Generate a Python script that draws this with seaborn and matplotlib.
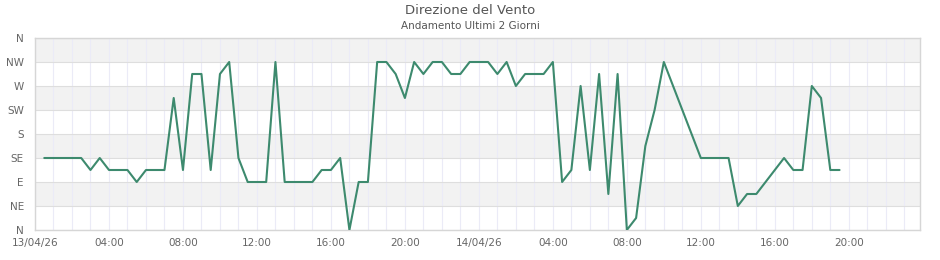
import matplotlib
matplotlib.use("Agg")
import matplotlib.pyplot as plt
import seaborn as sns
import pandas as pd
import numpy as np

# hours since 13/04/26 00:00
hours = [0.5, 1.0, 1.5, 2.0, 2.5, 3.0, 3.5, 4.0, 4.5, 5.0, 5.5, 6.0, 6.5, 7.0, 7.5,
         8.0, 8.5, 9.0, 9.5, 10.0, 10.5, 11.0, 11.5, 12.0, 12.5, 13.0, 13.5, 14.0,
         14.5, 15.0, 15.5, 16.0, 16.5, 17.0, 17.5, 18.0, 18.5, 19.0, 19.5, 20.0,
         20.5, 21.0, 21.5, 22.0, 22.5, 23.0, 23.5, 24.0, 24.5, 25.0, 25.5, 26.0,
         26.5, 27.0, 27.5, 28.0, 28.5, 29.0, 29.5, 30.0, 30.5, 31.0, 31.5, 32.0,
         32.5, 33.0, 33.5, 34.0, 36.0, 36.5, 37.0, 37.5, 38.0, 38.5, 39.0, 39.5,
         40.0, 40.5, 41.0, 41.5, 42.0, 42.5, 43.0, 43.5]
direction = [135, 135, 135, 135, 135, 112.5, 135, 112.5, 112.5, 112.5, 90, 112.5,
             112.5, 112.5, 247.5, 112.5, 292.5, 292.5, 112.5, 292.5, 315, 135, 90,
             90, 90, 315, 90, 90, 90, 90, 112.5, 112.5, 135, 0, 90, 90, 315, 315,
             292.5, 247.5, 315, 292.5, 315, 315, 292.5, 292.5, 315, 315, 315, 292.5,
             315, 270, 292.5, 292.5, 292.5, 315, 90, 112.5, 270, 112.5, 292.5, 67.5,
             292.5, 0, 22.5, 157.5, 225, 315, 135, 135, 135, 135, 45, 67.5, 67.5,
             90, 112.5, 135, 112.5, 112.5, 270, 247.5, 112.5, 112.5]

y_ticks = [0, 45, 90, 135, 180, 225, 270, 315, 360]
y_labels = ["N", "NE", "E", "SE", "S", "SW", "W", "NW", "N"]
x_ticks = [0, 4, 8, 12, 16, 20, 24, 28, 32, 36, 40, 44]
x_labels = ["13/04/26", "04:00", "08:00", "12:00", "16:00", "20:00",
            "14/04/26", "04:00", "08:00", "12:00", "16:00", "20:00"]

df = pd.DataFrame({"ora": hours, "dir": direction})

sns.set_style("white")
plt.rcParams['font.family'] = ['DejaVu Sans']

fig = plt.figure(figsize=(9.4, 2.6), dpi=100)
ax = fig.add_axes([35/940, 1-230/260, 885/940, 192/260])

# alternating bands
for i in range(len(y_ticks)-1):
    if i % 2 == 1:
        ax.axhspan(y_ticks[i], y_ticks[i+1], color="#f2f2f2", zorder=0, lw=0)

# hourly vertical grid
ax.set_xticks(np.arange(0, 48, 1), minor=True)
ax.grid(which="minor", axis="x", color="#ebebf7", lw=0.8, zorder=0.5)
ax.grid(which="major", axis="x", color="#ebebf7", lw=0.8, zorder=0.5)
ax.grid(which="major", axis="y", color="#dedede", lw=0.8, zorder=0.6)

sns.lineplot(data=df, x="ora", y="dir", ax=ax, color="#3d8a6e", lw=1.5, zorder=3)

ax.set_xlim(0, 47.85)
ax.set_ylim(0, 360)
ax.set_yticks(y_ticks)
ax.set_yticklabels(y_labels)
ax.set_xticks(x_ticks)
ax.set_xticklabels(x_labels)
ax.set_xlabel("")
ax.set_ylabel("")
ax.tick_params(axis="both", which="both", length=0, labelsize=7.5, labelcolor="#666666")
ax.tick_params(axis="x", pad=6)
ax.tick_params(axis="y", pad=8)
for s in ax.spines.values():
    s.set_color("#d6d6d6")
    s.set_linewidth(1)

fig.text(0.5, 1-10/260, "Direzione del Vento", ha="center", va="center",
         fontsize=9.5, color="#555555")
fig.text(0.5, 1-26/260, "Andamento Ultimi 2 Giorni", ha="center", va="center",
         fontsize=7.5, color="#555555")

fig.savefig("out.png", dpi=100)
